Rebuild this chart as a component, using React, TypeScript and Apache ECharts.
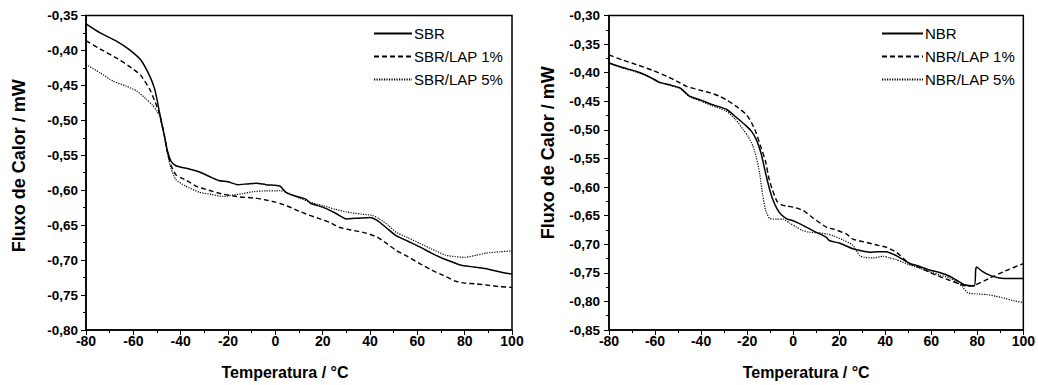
import React, { useEffect, useRef } from "react";
import * as echarts from "echarts";

// ---------- Left panel (SBR) ----------
const sbrT = [-80, -74, -67, -62, -57, -53, -51, -50, -49, -47, -45.5, -44, -42, -40, -36, -32, -28, -24, -20, -16, -12, -8, -4, 0, 2, 4.5, 8, 13, 15, 18, 22, 26, 30, 35, 40, 43, 47, 51, 56, 61, 66, 71, 75, 78, 84, 90, 95, 100];
const sbrV = [-0.362, -0.375, -0.387, -0.398, -0.413, -0.437, -0.455, -0.470, -0.488, -0.520, -0.545, -0.559, -0.565, -0.567, -0.570, -0.574, -0.580, -0.586, -0.588, -0.592, -0.591, -0.590, -0.592, -0.593, -0.594, -0.603, -0.608, -0.613, -0.619, -0.622, -0.627, -0.634, -0.641, -0.640, -0.639, -0.643, -0.654, -0.665, -0.673, -0.681, -0.690, -0.698, -0.703, -0.707, -0.710, -0.713, -0.717, -0.720];

const sbr1T = [-80, -74, -67, -62, -57, -53, -51, -49, -47, -45.5, -44, -42, -40, -37.5, -33, -28, -23, -18, -14, -9, -4, 0, 2, 6, 10, 13, 18, 23, 27, 32, 38, 43, 47, 51, 56, 61, 66, 71, 76, 80, 85, 90, 95, 100];
const sbr1V = [-0.386, -0.398, -0.411, -0.422, -0.435, -0.456, -0.472, -0.490, -0.520, -0.547, -0.565, -0.578, -0.582, -0.586, -0.595, -0.600, -0.605, -0.608, -0.610, -0.611, -0.614, -0.617, -0.619, -0.624, -0.630, -0.634, -0.640, -0.646, -0.653, -0.657, -0.661, -0.667, -0.676, -0.686, -0.695, -0.705, -0.714, -0.722, -0.730, -0.733, -0.734, -0.736, -0.738, -0.739];

const sbr5T = [-80, -74, -68.5, -63, -58.6, -54.4, -52, -50, -49, -47, -45.5, -44, -42, -38, -32, -27, -22, -18, -14, -9, -4, 0, 2, 4.8, 10, 14.6, 20, 25, 30, 36, 41, 44, 48, 51, 56, 61, 66, 72, 76, 80, 85, 89, 95, 100];
const sbr5V = [-0.420, -0.432, -0.444, -0.451, -0.458, -0.470, -0.478, -0.487, -0.493, -0.521, -0.549, -0.570, -0.585, -0.594, -0.603, -0.606, -0.609, -0.607, -0.605, -0.602, -0.601, -0.601, -0.6005, -0.603, -0.611, -0.617, -0.622, -0.627, -0.631, -0.634, -0.636, -0.641, -0.651, -0.660, -0.668, -0.676, -0.684, -0.693, -0.695, -0.696, -0.693, -0.690, -0.688, -0.687];

// ---------- Right panel (NBR) ----------
const nbrT = [-80, -74, -68, -63, -58, -53, -49, -45, -40, -35, -29, -25, -20.4, -18, -16, -14, -12, -10.5, -9, -7, -5, -2.5, 0, 4.3, 9, 14.4, 15.9, 20, 26, 30, 33, 37, 40.4, 44.8, 50.5, 55, 59.2, 64, 68, 71, 74.4, 78.7, 79.3, 79.7, 82, 85.3, 89.6, 95, 100];
const nbrV = [-0.383, -0.391, -0.398, -0.406, -0.417, -0.422, -0.427, -0.441, -0.448, -0.456, -0.464, -0.477, -0.493, -0.503, -0.517, -0.540, -0.575, -0.600, -0.620, -0.638, -0.649, -0.656, -0.659, -0.667, -0.677, -0.688, -0.694, -0.698, -0.708, -0.712, -0.714, -0.713, -0.713, -0.720, -0.733, -0.739, -0.745, -0.750, -0.756, -0.763, -0.771, -0.773, -0.745, -0.740, -0.747, -0.754, -0.759, -0.760, -0.760];

const nbr1T = [-80, -74, -68, -61, -55, -50, -46.3, -41, -36.3, -32, -29.2, -25, -20.4, -18, -16.1, -14, -12, -10.5, -9, -7, -5, -3, 0, 4.3, 9, 14.4, 18, 23.1, 26, 32, 37, 40.4, 44.8, 50.5, 55, 59.2, 64, 67.9, 72, 75.2, 78.7, 85, 92, 100];
const nbr1V = [-0.369, -0.378, -0.386, -0.396, -0.406, -0.416, -0.424, -0.430, -0.435, -0.441, -0.447, -0.458, -0.473, -0.488, -0.505, -0.530, -0.555, -0.585, -0.605, -0.625, -0.631, -0.633, -0.635, -0.641, -0.655, -0.670, -0.674, -0.682, -0.691, -0.697, -0.702, -0.705, -0.714, -0.734, -0.741, -0.749, -0.757, -0.763, -0.769, -0.773, -0.772, -0.760, -0.747, -0.734];

const nbr5T = [-80, -74, -68, -63, -58, -53, -49, -45, -40, -35, -29.2, -25, -21.8, -19.5, -17.5, -16, -14.6, -13.2, -12, -10.2, -7, -4.4, -1.5, 1.4, 4, 7.2, 11, 14.4, 17.3, 22, 26, 28.9, 31, 34.7, 39.1, 42, 44.8, 50.5, 55, 59.2, 64, 67.9, 71, 73.7, 75.9, 80, 83.9, 88, 92.5, 96, 100];
const nbr5V = [-0.383, -0.392, -0.399, -0.407, -0.417, -0.423, -0.428, -0.442, -0.450, -0.458, -0.467, -0.482, -0.499, -0.512, -0.528, -0.548, -0.575, -0.615, -0.640, -0.655, -0.656, -0.656, -0.663, -0.670, -0.676, -0.679, -0.680, -0.682, -0.685, -0.693, -0.702, -0.720, -0.723, -0.724, -0.721, -0.724, -0.727, -0.736, -0.742, -0.748, -0.754, -0.759, -0.766, -0.775, -0.785, -0.787, -0.788, -0.791, -0.795, -0.799, -0.802];

const xTicksMin = -80;
const xTicksMax = 100;
const xInterval = 20;
const leftYMin = -0.8;
const leftYMax = -0.35;
const rightYMin = -0.85;
const rightYMax = -0.3;
const yInterval = 0.05;

const xTitle = "Temperatura / °C";
const yTitle = "Fluxo de Calor / mW";

const FONT = "'Liberation Sans', Arial, sans-serif";

const zip = (t: number[], v: number[]) => t.map((x, i) => [x, v[i]]);

const fmtY = (v: number) => v.toFixed(2).replace(".", ",");

function xAxis(gridIndex: number, padRight: number) {
  return {
    type: "value",
    gridIndex,
    min: xTicksMin,
    max: xTicksMax,
    interval: xInterval,
    name: xTitle,
    nameLocation: "middle",
    nameGap: 34,
    nameTextStyle: { fontFamily: FONT, fontWeight: "bold", fontSize: 16, color: "#000", padding: [0, padRight, 0, 0] },
    axisLine: { show: true, onZero: false, lineStyle: { color: "#000", width: 1.5 } },
    axisTick: { show: true, inside: false, length: 5, lineStyle: { color: "#000", width: 1 } },
    minorTick: { show: true, splitNumber: 2, length: 3, lineStyle: { color: "#000", width: 1 } },
    axisLabel: { fontFamily: FONT, fontWeight: "bold", fontSize: 14, color: "#000", margin: 4 },
    splitLine: { show: false },
  };
}

function yAxis(gridIndex: number, min: number, max: number, nameGap: number, padLeft: number, margin: number) {
  return {
    type: "value",
    gridIndex,
    min,
    max,
    interval: yInterval,
    name: yTitle,
    nameLocation: "middle",
    nameGap,
    nameRotate: 90,
    nameTextStyle: { fontFamily: FONT, fontWeight: "bold", fontSize: 18, color: "#000", padding: [0, 0, 0, padLeft] },
    axisLine: { show: true, onZero: false, lineStyle: { color: "#000", width: 1.5 } },
    axisTick: { show: true, inside: false, length: 5, lineStyle: { color: "#000", width: 1 } },
    minorTick: { show: true, splitNumber: 2, length: 3, lineStyle: { color: "#000", width: 1 } },
    axisLabel: { fontFamily: FONT, fontWeight: "bold", fontSize: 13.5, color: "#000", margin, formatter: fmtY },
    splitLine: { show: false },
  };
}

function line(name: string, data: number[][], idx: number, type: any, width: number) {
  return {
    name,
    type: "line",
    xAxisIndex: idx,
    yAxisIndex: idx,
    data,
    symbol: "none",
    showSymbol: false,
    smooth: 0.2,
    clip: true,
    lineStyle: { color: "#000", width, type },
    itemStyle: { color: "#000" },
  };
}

export default function App() {
  const ref = useRef<HTMLDivElement>(null);
  useEffect(() => {
    if (!ref.current) return;
    const chart = echarts.init(ref.current, undefined, { renderer: "svg" });
    const legendBase = {
      orient: "vertical",
      top: 21,
      padding: 5,
      itemHeight: 14,
      itemGap: 8,
      itemStyle: { color: "transparent", borderWidth: 0, opacity: 0 },
      textStyle: { fontFamily: FONT, fontSize: 15, color: "#000", padding: [0, 0, 0, -3] },
      selectedMode: false,
    };
    chart.setOption({
      animation: false,
      backgroundColor: "#fff",
      grid: [
        { left: 86, top: 15.5, width: 426, height: 316.5, show: true, borderColor: "#000", borderWidth: 1.5, backgroundColor: "transparent" },
        { left: 609, top: 15.5, width: 415, height: 316.2, show: true, borderColor: "#000", borderWidth: 1.5, backgroundColor: "transparent" },
      ],
      xAxis: [xAxis(0, 28), xAxis(1, 20)],
      yAxis: [yAxis(0, leftYMin, leftYMax, 58, 14, 8), yAxis(1, rightYMin, rightYMax, 52, 40, 9)],
      legend: [
        { ...legendBase, left: 368, itemWidth: 38, data: ["SBR", "SBR/LAP 1%", "SBR/LAP 5%"] },
        { ...legendBase, left: 876, itemWidth: 41, data: ["NBR", "NBR/LAP 1%", "NBR/LAP 5%"] },
      ],
      series: [
        line("SBR", zip(sbrT, sbrV), 0, "solid", 1.5),
        line("SBR/LAP 1%", zip(sbr1T, sbr1V), 0, [5, 3], 1.4),
        line("SBR/LAP 5%", zip(sbr5T, sbr5V), 0, [1.2, 1.3], 1.2),
        line("NBR", zip(nbrT, nbrV), 1, "solid", 1.5),
        line("NBR/LAP 1%", zip(nbr1T, nbr1V), 1, [5, 3], 1.4),
        line("NBR/LAP 5%", zip(nbr5T, nbr5V), 1, [1.2, 1.3], 1.2),
      ],
    });
    return () => chart.dispose();
  }, []);
  return <div ref={ref} style={{ position: "absolute", left: 0, top: 0, width: 1038, height: 385 }} />;
}
